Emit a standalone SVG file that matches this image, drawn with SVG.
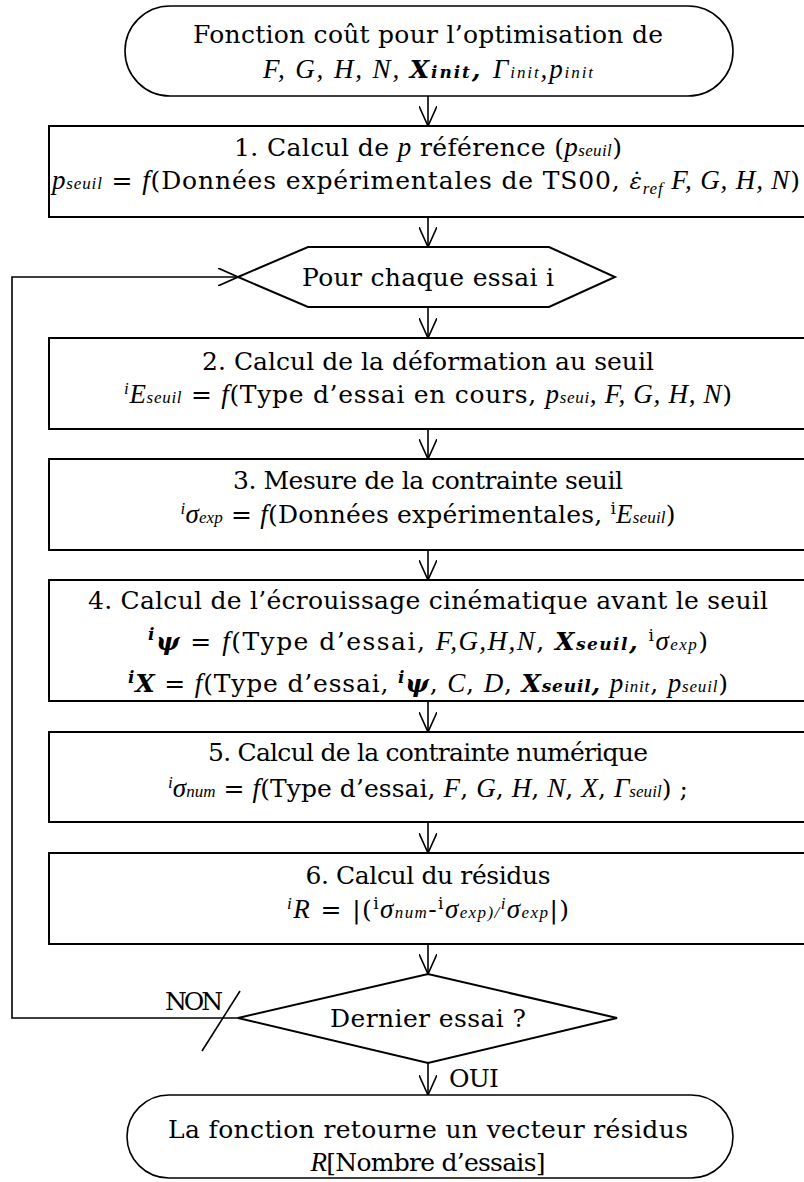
<svg xmlns="http://www.w3.org/2000/svg" width="804" height="1182" viewBox="0 0 804 1182">
<defs>
<style>
.box{fill:#fff;stroke:#000;stroke-width:2}
.term{fill:#fff;stroke:#000;stroke-width:1.6}
.con{fill:none;stroke:#000;stroke-width:1.6}
text{font-family:"DejaVu Serif","Liberation Serif",serif;font-size:25px;fill:#000}
.c{text-anchor:middle}
.m{font-family:"Liberation Serif",serif;font-style:italic;font-size:27px}
.md{font-family:"DejaVu Serif",serif;font-style:italic;font-size:23px}
.mb{font-family:"DejaVu Serif","Liberation Serif",serif;font-style:italic;font-weight:bold;font-size:25px}
.s{font-size:17px}
.sup{font-size:17px}
</style>
<marker id="arr" markerUnits="userSpaceOnUse" viewBox="0 0 20 18" refX="20" refY="9" markerWidth="20" markerHeight="18" orient="auto">
<path d="M0,0 L20,9 L0,18" fill="none" stroke="#000" stroke-width="1.6"/>
</marker>
</defs>

<g id="connectors">
<line class="con" x1="428" y1="96" x2="428" y2="126" marker-end="url(#arr)"/>
<line class="con" x1="428" y1="217" x2="428" y2="247" marker-end="url(#arr)"/>
<line class="con" x1="428" y1="307" x2="428" y2="338" marker-end="url(#arr)"/>
<line class="con" x1="428" y1="429" x2="428" y2="459" marker-end="url(#arr)"/>
<line class="con" x1="428" y1="550" x2="428" y2="580" marker-end="url(#arr)"/>
<line class="con" x1="428" y1="701" x2="428" y2="732" marker-end="url(#arr)"/>
<line class="con" x1="428" y1="822" x2="428" y2="853" marker-end="url(#arr)"/>
<line class="con" x1="428" y1="944" x2="428" y2="974" marker-end="url(#arr)"/>
<line class="con" x1="428" y1="1063" x2="428" y2="1095" marker-end="url(#arr)"/>
<path class="con" d="M238,1018 H12 V277 H238" marker-end="url(#arr)"/>
<line class="con" x1="240" y1="991" x2="202" y2="1051"/>
<text x="165" y="1010" textLength="58">NON</text>
<text x="449" y="1087" textLength="50">OUI</text>
</g>

<g id="start">
<rect class="term" x="125" y="6" width="608" height="90" rx="45" ry="45"/>
<text class="c" x="428" y="43" textLength="470">Fonction coût pour l’optimisation de</text>
<text class="c" x="428" y="78" textLength="330"><tspan class="m">F, G, H, N, </tspan><tspan class="mb">X</tspan><tspan class="mb s">init</tspan><tspan class="mb">, </tspan><tspan class="m">Γ</tspan><tspan class="m s">init</tspan><tspan class="m">,p</tspan><tspan class="m s">init</tspan></text>
</g>

<g id="step1">
<rect class="box" x="49" y="126" width="760" height="91"/>
<text class="c" x="428" y="156" textLength="388">1. Calcul de <tspan class="m">p</tspan> référence (<tspan class="m">p</tspan><tspan class="m s">seuil</tspan>)</text>
<text x="52" y="189" textLength="748"><tspan class="m">p</tspan><tspan class="m s">seuil</tspan> = <tspan class="m">f</tspan>(Données expérimentales de TS00,  <tspan class="md">ε̇</tspan><tspan class="m s" dy="5">ref</tspan><tspan class="m" dy="-5">  F, G, H, N</tspan>)</text>
</g>

<g id="loop-start">
<polygon class="box" points="238,277 308,247 549,247 615,277 549,307 308,307"/>
<text class="c" x="428" y="286" textLength="252">Pour chaque essai i</text>
</g>

<g id="step2">
<rect class="box" x="49" y="338" width="760" height="91"/>
<text class="c" x="428" y="370" textLength="452">2. Calcul de la déformation au seuil</text>
<text class="c" x="428" y="403" textLength="608"><tspan class="m sup" dy="-9">i</tspan><tspan class="m" dy="9">E</tspan><tspan class="m s">seuil</tspan> = <tspan class="m">f</tspan>(Type d’essai en cours, <tspan class="m">p</tspan><tspan class="m s">seui</tspan><tspan class="m">, F, G, H, N</tspan>)</text>
</g>

<g id="step3">
<rect class="box" x="49" y="459" width="760" height="91"/>
<text class="c" x="428" y="489" textLength="390">3. Mesure de la contrainte seuil</text>
<text class="c" x="428" y="523" textLength="495"><tspan class="m sup" dy="-9">i</tspan><tspan class="m" dy="9">σ</tspan><tspan class="m s">exp</tspan> = <tspan class="m">f</tspan>(Données expérimentales, <tspan class="sup" dy="-9">i</tspan><tspan class="m" dy="9">E</tspan><tspan class="m s">seuil</tspan>)</text>
</g>

<g id="step4">
<rect class="box" x="49" y="580" width="760" height="121"/>
<text class="c" x="428" y="609" textLength="680">4. Calcul de l’écrouissage cinématique avant le seuil</text>
<text class="c" x="428" y="650" textLength="560"><tspan class="mb sup" dy="-10">i</tspan><tspan class="mb" dy="10">ψ</tspan> = <tspan class="m">f</tspan>(Type d’essai, <tspan class="m">F,G,H,N</tspan>, <tspan class="mb">X</tspan><tspan class="mb s">seuil</tspan><tspan class="mb">,</tspan> <tspan class="sup" dy="-9">i</tspan><tspan class="m" dy="9">σ</tspan><tspan class="m s">exp</tspan>)</text>
<text class="c" x="428" y="692" textLength="600"><tspan class="mb sup" dy="-9">i</tspan><tspan class="mb" dy="9">X</tspan> = <tspan class="m">f</tspan>(Type d’essai, <tspan class="mb sup" dy="-9">i</tspan><tspan class="mb" dy="9">ψ</tspan>, <tspan class="m">C</tspan>, <tspan class="m">D</tspan>, <tspan class="mb">X</tspan><tspan class="mb s">seuil</tspan><tspan class="mb">,</tspan> <tspan class="m">p</tspan><tspan class="m s">init</tspan>, <tspan class="m">p</tspan><tspan class="m s">seuil</tspan>)</text>
</g>

<g id="step5">
<rect class="box" x="49" y="732" width="760" height="90"/>
<text class="c" x="428" y="761" textLength="440">5. Calcul de la contrainte numérique</text>
<text class="c" x="428" y="797" textLength="520"><tspan class="m sup" dy="-9">i</tspan><tspan class="m" dy="9">σ</tspan><tspan class="m s">num</tspan> = <tspan class="m">f</tspan>(Type d’essai, <tspan class="m">F</tspan>, <tspan class="m">G</tspan>, <tspan class="m">H</tspan>, <tspan class="m">N</tspan>, <tspan class="m">X</tspan>, <tspan class="m">Γ</tspan><tspan class="m s">seuil</tspan>) ;</text>
</g>

<g id="step6">
<rect class="box" x="49" y="853" width="760" height="91"/>
<text class="c" x="428" y="884" textLength="245">6. Calcul du résidus</text>
<text class="c" x="428" y="918" textLength="282"><tspan class="m sup" dy="-9">i</tspan><tspan class="m" dy="9">R</tspan> = |(<tspan class="sup" dy="-9">i</tspan><tspan class="m" dy="9">σ</tspan><tspan class="m s">num</tspan>-<tspan class="sup" dy="-9">i</tspan><tspan class="m" dy="9">σ</tspan><tspan class="m s">exp)/</tspan><tspan class="m sup" dy="-9">i</tspan><tspan class="m" dy="9">σ</tspan><tspan class="m s">exp</tspan>|)</text>
</g>

<g id="decision">
<polygon class="box" points="238,1018 428,974 617,1018 428,1063"/>
<text class="c" x="428" y="1027" textLength="196">Dernier essai ?</text>
</g>

<g id="end">
<rect class="term" x="127" y="1095" width="606" height="83" rx="42" ry="42"/>
<text class="c" x="428" y="1138" textLength="520">La fonction retourne un vecteur résidus</text>
<text class="c" x="428" y="1171" textLength="235"><tspan class="m">R</tspan>[Nombre d’essais]</text>
</g>
</svg>
